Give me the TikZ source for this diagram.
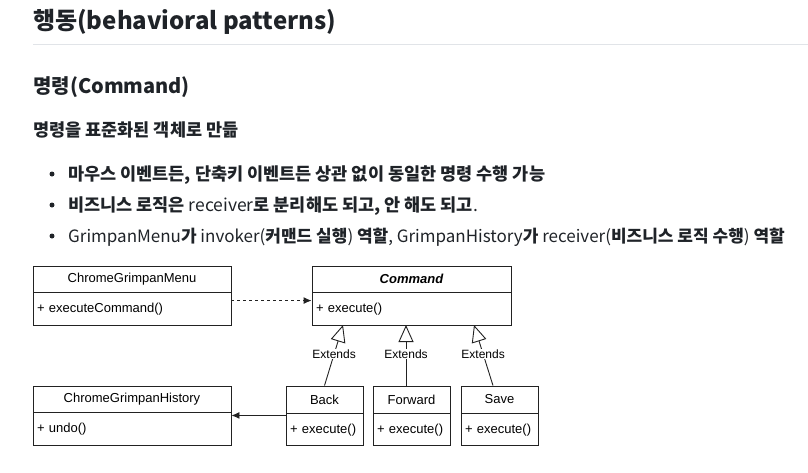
\documentclass[tikz,border=0pt]{standalone}
\usepackage{fontspec}
\setmainfont{Noto Sans CJK KR}
\newfontfamily\umlfont{Liberation Sans}
\usepackage{tikz}
\usetikzlibrary{calc,positioning,arrows.meta}
\definecolor{InkDark}{HTML}{1F2328}
\definecolor{RuleGray}{HTML}{E1E4E8}
\definecolor{LineGray}{HTML}{222222}

\tikzset{
  clshead/.style={draw=LineGray, line width=0.9pt, minimum height=26pt, inner sep=0pt, font=\umlfont\fontsize{13}{15}\selectfont},
  clsbody/.style={draw=LineGray, line width=0.9pt, minimum height=33pt, inner xsep=4pt, inner ysep=0pt, align=left, font=\umlfont\fontsize{13}{15}\selectfont},
  dep/.style={draw=LineGray, line width=0.9pt, dash pattern=on 3pt off 3pt, -{Latex[length=8pt,width=7pt]}},
  assoc/.style={draw=LineGray, line width=0.9pt, -{Latex[length=8pt,width=7pt]}},
  ext/.style={draw=LineGray, line width=0.9pt, -{Triangle[open,length=17pt,width=15pt,fill=white]}},
  extlbl/.style={fill=white, inner sep=1pt, font=\umlfont\fontsize{12}{14}\selectfont},
  txt/.style={anchor=base west, inner sep=0pt, text=InkDark}
}

\begin{document}
\begin{tikzpicture}[x=1pt, y=-1pt]
  \useasboundingbox (0,0) rectangle (808,472);

  % Headings
  \node[txt, font=\fontsize{24}{28}\selectfont\bfseries] (title) at (33,29) {행동(behavioral patterns)};
  \draw[RuleGray, line width=1pt] (33,44) -- (808,44);
  \node[txt, font=\fontsize{20}{24}\selectfont\bfseries] (subtitle) at (33,93) {명령(Command)};
  \node[txt, font=\fontsize{17.5}{21}\selectfont\bfseries] (lead) at (33,136) {명령을 표준화된 객체로 만듦};

  % Bullet list
  \foreach \y in {174,205,236}
    \fill[InkDark] (52,\y) circle (2.5pt);
  \node[txt, font=\fontsize{17.5}{21}\selectfont] (item1) at (68,180) {\textbf{마우스 이벤트든, 단축키 이벤트든 상관 없이 동일한 명령 수행 가능}};
  \node[txt, font=\fontsize{17.5}{21}\selectfont] (item2) at (68,211) {\textbf{비즈니스 로직은} receiver\textbf{로 분리해도 되고, 안 해도 되고}.};
  \node[txt, font=\fontsize{17}{21}\selectfont] (item3) at (68,242) {GrimpanMenu\textbf{가} invoker(\textbf{커맨드 실행}) \textbf{역할}, GrimpanHistory\textbf{가} receiver(\textbf{비즈니스 로직 수행}) \textbf{역할}};

  % Classes
  \node[clshead, minimum width=198pt] (menu) at (132,279) {ChromeGrimpanMenu};
  \node[clsbody, text width=190pt, below=0pt of menu] (menuops) {+ executeCommand()};

  \node[clshead, minimum width=199pt, font=\umlfont\fontsize{13}{15}\selectfont\bfseries\itshape] (cmd) at (411.5,279) {Command};
  \node[clsbody, text width=191pt, below=0pt of cmd] (cmdops) {+ execute()};

  \node[clshead, minimum width=198pt] (hist) at (132,399) {ChromeGrimpanHistory};
  \node[clsbody, text width=190pt, below=0pt of hist] (histops) {+ undo()};

  \node[clshead, minimum width=77pt, minimum height=27pt] (back) at (324.5,399.5) {Back};
  \node[clsbody, text width=69pt, minimum height=32pt, below=0pt of back] (backops) {+ execute()};

  \node[clshead, minimum width=77pt, minimum height=27pt] (fwd) at (411.5,399.5) {Forward};
  \node[clsbody, text width=69pt, minimum height=32pt, below=0pt of fwd] (fwdops) {+ execute()};

  \node[clshead, minimum width=77pt, minimum height=27pt] (save) at (499.5,399.5) {Save};
  \node[clsbody, text width=69pt, minimum height=32pt, below=0pt of save] (saveops) {+ execute()};

  % Relations
  \draw[dep] ($(menuops.north east)!0.24!(menuops.south east)$) -- ($(cmdops.north west)!0.24!(cmdops.south west)$);
  \draw[assoc] ([yshift=-2pt]backops.north west) -- ([yshift=-2pt]backops.north west -| histops.east);

  \coordinate (tipback) at (343,325);
  \coordinate (tipfwd) at (406,325);
  \coordinate (tipsave) at (474,325);
  \draw[ext] (back.north) -- node[extlbl, pos=0.52] {Extends} (tipback);
  \draw[ext] (fwd.north -| tipfwd) -- node[extlbl, pos=0.52] {Extends} (tipfwd);
  \draw[ext] ([xshift=-6.5pt]save.north) -- node[extlbl, pos=0.52] {Extends} (tipsave);
\end{tikzpicture}
\end{document}
